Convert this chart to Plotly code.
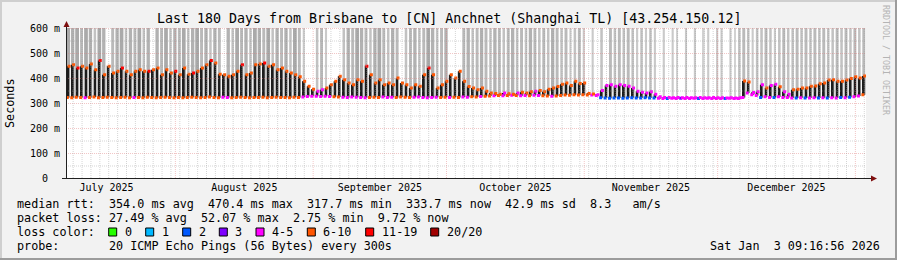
import plotly.graph_objects as go
import pandas as pd

# ---------------- data ----------------
START = pd.Timestamp("2025-07-07 09:16:56")
END = pd.Timestamp("2026-01-03 09:16:56")

LOSS_LABELS = ["0", "1", "2", "3", "4-5", "6-10", "11-19", "20/20"]
LOSS_COLORS = ["#26ff00", "#00b8ff", "#0059ff", "#7e00ff", "#ff00ff", "#ff5500", "#ff0000", "#a10000"]

# daily peak of the median rtt (ms), one value per day from START
peak_ms = [
    447, 453, 440, 447, 440, 456, 433, 470, 413, 447, 420, 427, 440, 427, 413, 427, 433, 427, 427, 433, 440, 413, 433, 420, 427,
    413, 440, 415, 420, 427, 440, 453, 470, 460, 415, 413, 407, 413, 427, 453, 413, 420, 453, 456, 460, 447, 453, 433, 440, 427, 420, 413, 405, 387, 367, 355,
    347, 353, 360, 373, 387, 407, 393, 380, 373, 393, 387, 447, 413, 380, 393, 373, 380, 373, 400, 380, 373, 360, 373, 367, 413, 440, 413, 360, 373, 387,
    413, 400, 427, 387, 366, 360, 353, 360, 347, 340, 338, 335, 340, 337, 335, 340, 343, 340, 345, 347, 350, 345, 355, 360, 366, 375, 380, 370, 387, 378, 380,
    338, 336, 333, 350, 370, 373, 367, 373, 370, 367, 360, 347, 343, 340, 345, 335, 325, 322, 322, 321, 322, 321, 322, 321, 321, 322, 321, 321, 322, 321,
    321, 320, 321, 320, 321, 388, 384, 342, 345, 373, 360, 370, 375, 365, 345, 335, 353, 355, 360, 360, 367, 368, 377, 380, 392, 393, 387, 387, 392, 398, 405, 400, 408,
]
# daily trough of the median rtt (ms)
trough_ms = [
    322, 321, 323, 322, 321, 322, 324, 321, 322, 323, 322, 321, 322, 323, 321, 322, 322, 321, 323, 322, 321, 322, 323, 322, 321,
    322, 321, 322, 323, 322, 321, 322, 324, 322, 321, 323, 322, 321, 322, 323, 322, 321, 322, 322, 323, 321, 322, 323, 322, 322, 321, 323, 322, 324, 326, 327,
    327, 326, 327, 326, 325, 324, 323, 322, 324, 323, 322, 321, 322, 323, 322, 324, 322, 323, 322, 324, 323, 322, 323, 324, 322, 321, 322, 323, 322, 323,
    322, 323, 322, 324, 323, 325, 324, 326, 327, 328, 329, 330, 329, 330, 331, 330, 329, 330, 329, 331, 330, 329, 328, 327, 328, 330, 332, 331, 333, 332, 333,
    332, 332, 330, 321, 320, 319, 320, 320, 319, 320, 321, 320, 320, 321, 320, 320, 319, 318, 318, 319, 318, 319, 318, 318, 319, 318, 318, 319, 318, 318,
    318, 318, 319, 318, 318, 322, 340, 333, 330, 322, 325, 322, 322, 325, 322, 322, 320, 320, 321, 320, 320, 321, 320, 321, 320, 321, 320, 322, 321, 323, 325, 328, 333,
]
# loss bucket (index into LOSS_LABELS) at the daily peak / trough
loss_peak = [
    5, 5, 6, 5, 5, 5, 5, 6, 5, 5, 5, 5, 6, 5, 5, 5, 5, 5, 6, 5, 5, 5, 5, 5, 6,
    5, 5, 5, 6, 5, 5, 5, 6, 5, 5, 5, 5, 5, 5, 6, 5, 5, 5, 5, 6, 5, 5, 5, 5, 5, 5, 5, 5, 5, 5, 5,
    4, 4, 5, 5, 5, 5, 5, 5, 5, 5, 5, 6, 5, 5, 5, 5, 5, 5, 5, 5, 5, 5, 5, 5, 5, 6, 5, 5, 5, 5,
    5, 5, 5, 5, 5, 5, 5, 5, 5, 5, 5, 5, 4, 5, 5, 4, 5, 5, 5, 4, 5, 5, 5, 5, 5, 5, 5, 5, 5, 5, 5,
    5, 5, 4, 4, 4, 4, 4, 4, 4, 4, 4, 4, 4, 4, 4, 4, 4, 4, 4, 4, 4, 4, 4, 4, 4, 4, 4, 4, 4, 4,
    4, 4, 4, 4, 4, 5, 5, 4, 4, 4, 5, 4, 4, 5, 4, 4, 5, 5, 5, 5, 5, 5, 5, 5, 5, 5, 5, 5, 5, 5, 5, 5, 5,
]
loss_trough = [
    5, 5, 5, 5, 4, 5, 5, 5, 5, 5, 5, 5, 5, 5, 5, 4, 5, 5, 5, 5, 5, 5, 5, 5, 5,
    5, 5, 5, 5, 5, 5, 5, 5, 5, 5, 4, 4, 5, 5, 5, 5, 5, 5, 5, 5, 5, 5, 5, 5, 5, 5, 5, 5, 4, 4, 4,
    4, 4, 4, 4, 5, 5, 4, 4, 4, 4, 4, 4, 5, 5, 5, 4, 4, 4, 5, 5, 5, 5, 4, 4, 4, 4, 4, 4, 5, 5,
    4, 5, 5, 4, 4, 5, 5, 4, 5, 5, 4, 5, 4, 5, 4, 5, 4, 4, 5, 4, 4, 5, 5, 4, 5, 5, 5, 5, 5, 5, 5,
    5, 4, 4, 2, 2, 2, 2, 2, 2, 2, 2, 2, 2, 2, 2, 2, 4, 4, 2, 4, 4, 3, 4, 4, 4, 2, 4, 4, 4, 4,
    4, 2, 4, 4, 4, 4, 4, 4, 4, 2, 4, 4, 2, 4, 4, 4, 4, 2, 4, 2, 4, 4, 2, 4, 2, 4, 4, 2, 4, 2, 4, 4, 5,
]
# number of the 20 pings in the high tail (>600 ms smoke) per day
tail_pings = [
    6, 5, 6, 4, 6, 5, 3, 6, 5, 0, 4, 5, 6, 3, 5, 4, 6, 3, 5, 0, 5, 4, 6, 3, 5,
    4, 6, 3, 5, 6, 4, 5, 3, 5, 4, 0, 5, 3, 6, 4, 5, 3, 6, 5, 4, 6, 3, 5, 4, 5, 3, 6, 4, 2, 0, 0,
    3, 4, 2, 0, 0, 0, 3, 5, 4, 6, 5, 4, 3, 5, 6, 4, 3, 5, 4, 0, 3, 4, 5, 3, 4, 6, 5, 3, 4, 5,
    0, 0, 0, 4, 5, 3, 4, 5, 4, 3, 5, 4, 3, 4, 5, 3, 4, 3, 5, 4, 3, 4, 3, 5, 4, 3, 4, 2, 3, 4, 2,
    0, 2, 0, 3, 0, 4, 3, 4, 3, 4, 3, 2, 3, 2, 3, 2, 0, 2, 0, 2, 1, 0, 2, 0, 2, 0, 1, 2, 0, 2,
    2, 0, 2, 1, 3, 4, 3, 2, 3, 3, 4, 3, 2, 3, 4, 3, 3, 4, 3, 4, 3, 4, 3, 4, 3, 3, 4, 3, 4, 3, 4, 3, 4,
]

Y_TICKS = [0, 100, 200, 300, 400, 500, 600]
Y_TICK_TEXT = ["0  ", "100 m", "200 m", "300 m", "400 m", "500 m", "600 m"]

TITLE = "Last 180 Days from Brisbane to [CN] Anchnet (Shanghai TL) [43.254.150.12]"
LINE_RTT = "median rtt:  354.0 ms avg  470.4 ms max  317.7 ms min  333.7 ms now  42.9 ms sd  8.3   am/s"
LINE_LOSS = "packet loss: 27.49 % avg  52.07 % max  2.75 % min  9.72 % now"
LINE_PROBE = "probe:       20 ICMP Echo Pings (56 Bytes) every 300s"
STAMP = "Sat Jan  3 09:16:56 2026"

n = len(peak_ms)
assert n == 180 and len(trough_ms) == n and len(loss_peak) == n and len(loss_trough) == n and len(tail_pings) == n

# ---------------- geometry helpers ----------------
W, H = 897, 260
L, R, T, B = 66, 866, 28, 178
DAY = pd.Timedelta(days=1)
DAY_MS = 86400000


def px(x):
    return (x - L) / (R - L)


def py(y):
    return (B - y) / (B - T)


def nb(s):
    return s.replace(" ", "\u00a0")


MONO = "DejaVu Sans Mono"

days = [START + DAY * (i + 0.5) for i in range(n)]
x_trough = [START + DAY * (i + 0.3) for i in range(n)]
x_peak = [START + DAY * (i + 0.7) for i in range(n)]
span = [p - t for p, t in zip(peak_ms, trough_ms)]

fig = go.Figure()

# high-tail smoke (shade and width follow the number of pings in the tail)
tail_idx = [i for i in range(n) if tail_pings[i] > 0]
tail_shade = [218 - 8 * tail_pings[i] for i in tail_idx]
fig.add_trace(go.Bar(
    x=[days[i] for i in tail_idx],
    base=[trough_ms[i] for i in tail_idx],
    y=[Y_TICKS[-1] + 20 - trough_ms[i] for i in tail_idx],
    width=[(0.3 + 0.09 * tail_pings[i]) * DAY_MS for i in tail_idx],
    marker=dict(color=[f"rgb({g},{g},{g})" for g in tail_shade], line=dict(width=0)),
    hoverinfo="skip",
))
# inner smoke
fig.add_trace(go.Bar(x=days, base=trough_ms, y=span, width=0.8 * DAY_MS,
                     marker=dict(color="#a8a8a8", line=dict(width=0)), hoverinfo="skip"))
fig.add_trace(go.Bar(x=days, base=trough_ms, y=span, width=0.4 * DAY_MS,
                     marker=dict(color="#1c1c1c", line=dict(width=0)), hoverinfo="skip"))
# median points coloured by loss
fig.add_trace(go.Scatter(x=x_trough, y=trough_ms, mode="markers",
                         marker=dict(symbol="square", size=3, color=[LOSS_COLORS[c] for c in loss_trough], line=dict(width=0)),
                         hoverinfo="skip"))
fig.add_trace(go.Scatter(x=x_peak, y=peak_ms, mode="markers",
                         marker=dict(symbol="square", size=3, color=[LOSS_COLORS[c] for c in loss_peak], line=dict(width=0)),
                         hoverinfo="skip"))

shapes = []
MINOR = "rgba(150,150,150,0.4)"
MAJOR = "rgba(225,120,120,0.42)"
DOT = "1px,1px"
# horizontal grid
for v in range(50, 600, 100):
    shapes.append(dict(type="line", xref="paper", yref="y", x0=0, x1=1, y0=v - 2, y1=v - 2,
                       line=dict(color=MINOR, width=1, dash=DOT), layer="above"))
for v in range(100, 601, 100):
    shapes.append(dict(type="line", xref="paper", yref="y", x0=0, x1=1, y0=v - 2, y1=v - 2,
                       line=dict(color=MAJOR, width=1, dash=DOT), layer="above"))
# vertical grid
month_starts = pd.date_range("2025-08-01", END, freq="MS")
for d in pd.date_range("2025-07-09", END, freq="2D"):
    if d in month_starts or d < START:
        continue
    shapes.append(dict(type="line", xref="x", yref="paper", x0=d, x1=d, y0=0, y1=1,
                       line=dict(color=MINOR, width=1, dash=DOT), layer="above"))
for d in month_starts:
    shapes.append(dict(type="line", xref="x", yref="paper", x0=d, x1=d, y0=0, y1=1,
                       line=dict(color=MAJOR, width=1, dash=DOT), layer="above"))

# axes with arrows
AX = "#202020"
ARROW = "#7f1010"
shapes.append(dict(type="line", xref="paper", yref="paper", x0=px(66.5), x1=px(66.5), y0=py(178.5), y1=py(25),
                   line=dict(color=AX, width=1), layer="above"))
shapes.append(dict(type="line", xref="paper", yref="paper", x0=px(62), x1=px(871), y0=py(178.5), y1=py(178.5),
                   line=dict(color=AX, width=1), layer="above"))
shapes.append(dict(type="path", xref="paper", yref="paper",
                   path=f"M {px(66.5)} {py(21)} L {px(63.5)} {py(27)} L {px(69.5)} {py(27)} Z",
                   fillcolor=ARROW, line=dict(width=0), layer="above"))
shapes.append(dict(type="path", xref="paper", yref="paper",
                   path=f"M {px(877)} {py(178.5)} L {px(871)} {py(175.5)} L {px(871)} {py(181.5)} Z",
                   fillcolor=ARROW, line=dict(width=0), layer="above"))

# 3d frame
shapes.append(dict(type="rect", xref="paper", yref="paper", x0=px(0), x1=px(W), y0=py(2), y1=py(0),
                   fillcolor="#cfcfcf", line=dict(width=0)))
shapes.append(dict(type="rect", xref="paper", yref="paper", x0=px(0), x1=px(2), y0=py(H), y1=py(0),
                   fillcolor="#cfcfcf", line=dict(width=0)))
shapes.append(dict(type="rect", xref="paper", yref="paper", x0=px(0), x1=px(W), y0=py(H), y1=py(H - 2),
                   fillcolor="#9c9c9c", line=dict(width=0)))
shapes.append(dict(type="rect", xref="paper", yref="paper", x0=px(W - 2), x1=px(W), y0=py(H), y1=py(0),
                   fillcolor="#9c9c9c", line=dict(width=0)))

annotations = []


def text(x, y, s, size=11.76, xanchor="left", color="#000000", angle=0):
    annotations.append(dict(xref="paper", yref="paper", x=px(x), y=py(y), text=nb(s), showarrow=False,
                            xanchor=xanchor, yanchor="middle", borderpad=0, textangle=angle,
                            font=dict(family=MONO, size=size, color=color)))


text(448.5, 19, TITLE, size=13.3, xanchor="center")
text(10, 103, "Seconds", xanchor="center", angle=-90)
text(886, 60, "RRDTOOL / TOBI OETIKER", size=8.3, xanchor="center", color="#b4b4b4", angle=90)
text(16, 204, LINE_RTT)
text(16, 218, LINE_LOSS)
text(16, 232, "loss color:")
text(16, 246, LINE_PROBE)
text(881, 246, STAMP, xanchor="right")

box_x = [108.7, 145.7, 182.7, 219.3, 256, 307.3, 365.7, 430.7]
for bx, lab, col in zip(box_x, LOSS_LABELS, LOSS_COLORS):
    shapes.append(dict(type="rect", xref="paper", yref="paper", x0=px(bx), x1=px(bx + 8), y0=py(236), y1=py(228),
                       fillcolor=col, line=dict(color="#000000", width=1)))
    text(bx + 15, 232, lab)

fig.update_layout(
    width=W, height=H, autosize=False,
    margin=dict(l=L, r=W - R, t=T, b=H - B, pad=0),
    paper_bgcolor="#f2f2f2", plot_bgcolor="#ffffff",
    barmode="overlay", showlegend=False,
    shapes=shapes, annotations=annotations,
    xaxis=dict(type="date", range=[START, END], dtick="M1", tick0="2025-08-01",
               ticklabelmode="period", tickformat="%B %Y", showgrid=False, zeroline=False,
               ticks="", showline=False, fixedrange=True, ticklabelstandoff=2,
               tickfont=dict(family=MONO, size=10, color="#000000")),
    yaxis=dict(range=[0, 600], tickvals=Y_TICKS, ticktext=[nb(t) for t in Y_TICK_TEXT],
               showgrid=False, zeroline=False, ticks="", showline=False, fixedrange=True,
               ticklabelstandoff=5,
               tickfont=dict(family=MONO, size=10, color="#000000")),
)

fig.write_html("out.html")
